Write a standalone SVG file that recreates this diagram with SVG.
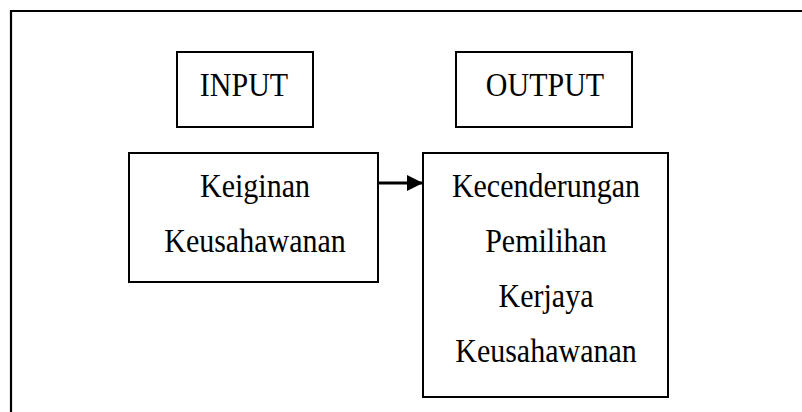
<svg xmlns="http://www.w3.org/2000/svg" width="802" height="412" viewBox="0 0 802 412">
<style>
.box{fill:#fff;stroke:#000;stroke-width:2}
.t{font-family:"Liberation Serif","Times New Roman",serif;font-size:30px;fill:#000;text-anchor:middle}
</style>
<defs>
<marker id="ah" markerWidth="16" markerHeight="16" refX="16" refY="8" orient="auto" markerUnits="userSpaceOnUse">
<path d="M0,0 L16,8 L0,16 Z" fill="#000"/>
</marker>
</defs>
<rect width="802" height="412" fill="#fff"/>
<path d="M11,412 V11 H802" fill="none" stroke="#000" stroke-width="2.2"/>
<g id="input">
<rect class="box" x="177" y="52" width="136" height="75"/>
<text class="t" transform="matrix(1,0,0,1.12,244,96)">INPUT</text>
</g>
<g id="output">
<rect class="box" x="456" y="52" width="176" height="75"/>
<text class="t" transform="matrix(1,0,0,1.12,545,96)">OUTPUT</text>
</g>
<g id="keinginan">
<rect class="box" x="129" y="153" width="249" height="129"/>
<text class="t" transform="matrix(1,0,0,1.12,255,197)">Keiginan</text>
<text class="t" transform="matrix(1,0,0,1.12,255,252)">Keusahawanan</text>
</g>
<g id="kecenderungan">
<rect class="box" x="423" y="153" width="245" height="244"/>
<text class="t" transform="matrix(1,0,0,1.12,546,197)">Kecenderungan</text>
<text class="t" transform="matrix(1,0,0,1.12,546,252)">Pemilihan</text>
<text class="t" transform="matrix(1,0,0,1.12,546,307)">Kerjaya</text>
<text class="t" transform="matrix(1,0,0,1.12,546,362)">Keusahawanan</text>
</g>
<g id="connectors">
<line x1="379" y1="183" x2="423" y2="183" stroke="#000" stroke-width="3" marker-end="url(#ah)"/>
</g>
</svg>
